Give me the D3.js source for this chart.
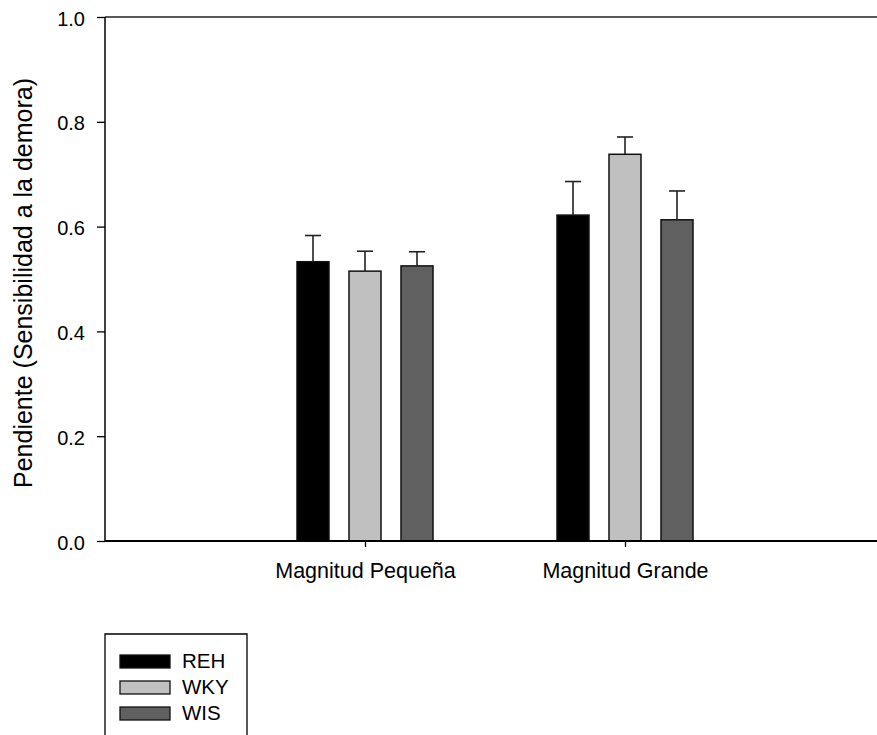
<!DOCTYPE html>
<html>
<head>
<meta charset="utf-8">
<script src="https://cdn.jsdelivr.net/npm/d3@7"></script>
<style>
  html, body { margin: 0; padding: 0; background: #fff; }
  svg { display: block; }
  text { font-family: "Liberation Sans", Arial, sans-serif; fill: #000; }
</style>
</head>
<body>
<svg id="chart" width="877" height="735"></svg>
<script>
// Grouped bars: slope (delay sensitivity) by reward magnitude and strain
const categories = ["Magnitud Pequeña", "Magnitud Grande"];
const series = ["REH", "WKY", "WIS"];
const seriesColors = ["#000000", "#c0c0c0", "#606060"];
const meanREH = [0.533, 0.622];
const meanWKY = [0.515, 0.738];
const meanWIS = [0.525, 0.613];
const semREH = [0.050, 0.064];
const semWKY = [0.038, 0.033];
const semWIS = [0.027, 0.055];
const yTicks = [0.0, 0.2, 0.4, 0.6, 0.8, 1.0];
const yTitle = "Pendiente (Sensibilidad a la demora)";

const means = [meanREH, meanWKY, meanWIS];
const sems = [semREH, semWKY, semWIS];
const rows = [];
series.forEach((s, si) => {
  categories.forEach((c, ci) => {
    rows.push({ cat: c, series: s, color: seriesColors[si], mean: means[si][ci], sem: sems[si][ci] });
  });
});

const svg = d3.select("#chart");
const plotLeft = 105, plotRight = 885, plotTop = 17, plotBottom = 541;

const x = d3.scalePoint().domain(categories).range([plotLeft, plotRight]).padding(1);
const xSub = d3.scaleBand().domain(series).range([-78, 78]).paddingInner(20 / 52).paddingOuter(10 / 52);
const y = d3.scaleLinear().domain([0, 1]).range([plotBottom, plotTop]);

// frame top line
svg.append("line")
  .attr("x1", plotLeft).attr("x2", 877).attr("y1", plotTop).attr("y2", plotTop)
  .attr("stroke", "#222").attr("stroke-width", 1.5);

// bars
const g = svg.append("g");
g.selectAll("rect.bar").data(rows).join("rect")
  .attr("class", "bar")
  .attr("x", d => x(d.cat) + xSub(d.series))
  .attr("width", xSub.bandwidth())
  .attr("y", d => y(d.mean))
  .attr("height", d => y(0) - y(d.mean))
  .attr("fill", d => d.color)
  .attr("stroke", "#111").attr("stroke-width", 1.5);

// error bars (upper only)
const capW = 16;
const cx = d => x(d.cat) + xSub(d.series) + xSub.bandwidth() / 2;
g.selectAll("line.err").data(rows).join("line")
  .attr("class", "err")
  .attr("x1", cx).attr("x2", cx)
  .attr("y1", d => y(d.mean))
  .attr("y2", d => y(d.mean + d.sem))
  .attr("stroke", "#222").attr("stroke-width", 1.6);
g.selectAll("line.cap").data(rows).join("line")
  .attr("class", "cap")
  .attr("x1", d => cx(d) - capW / 2)
  .attr("x2", d => cx(d) + capW / 2)
  .attr("y1", d => y(d.mean + d.sem))
  .attr("y2", d => y(d.mean + d.sem))
  .attr("stroke", "#222").attr("stroke-width", 1.6);

// y axis
const yAxis = svg.append("g")
  .attr("transform", `translate(${plotLeft},0)`)
  .call(d3.axisLeft(y).tickValues(yTicks).tickFormat(d3.format(".1f")).tickSize(8).tickPadding(12));
yAxis.select(".domain").attr("stroke", "#000").attr("stroke-width", 1.5).attr("d", `M0,${plotTop}V${plotBottom}`);
yAxis.selectAll(".tick line").attr("stroke", "#000").attr("stroke-width", 1.3);
yAxis.selectAll(".tick text")
  .style("font-family", '"Liberation Sans", Arial, sans-serif')
  .style("font-size", "20px").attr("fill", "#000").attr("dy", "0.4em");

// x axis
const xAxis = svg.append("g")
  .attr("transform", `translate(0,${plotBottom})`)
  .call(d3.axisBottom(x).tickSize(6).tickPadding(16));
xAxis.select(".domain").attr("stroke", "#000").attr("stroke-width", 2).attr("d", `M${plotLeft},0H877`);
xAxis.selectAll(".tick line").attr("stroke", "#000").attr("stroke-width", 1.3);
xAxis.selectAll(".tick text")
  .style("font-family", '"Liberation Sans", Arial, sans-serif')
  .style("font-size", "21.5px").attr("fill", "#000");

// y axis title
svg.append("text")
  .attr("transform", `translate(32,${(plotTop + plotBottom) / 2 + 4}) rotate(-90)`)
  .attr("text-anchor", "middle")
  .style("font-size", "25px")
  .text(yTitle);

// legend
const legend = svg.append("g");
legend.append("path")
  .attr("d", "M105,735V634H247V735")
  .attr("fill", "none").attr("stroke", "#000").attr("stroke-width", 1.3);
const li = legend.selectAll("g.item").data(series).join("g")
  .attr("class", "item")
  .attr("transform", (d, i) => `translate(0,${661 + i * 26})`);
li.append("rect")
  .attr("x", 120).attr("y", -6).attr("width", 50).attr("height", 13)
  .attr("fill", (d, i) => seriesColors[i]).attr("stroke", "#111").attr("stroke-width", 1.3);
li.append("text")
  .attr("x", 182).attr("dy", "0.35em")
  .style("font-size", "20.5px")
  .text(d => d);
</script>
</body>
</html>
